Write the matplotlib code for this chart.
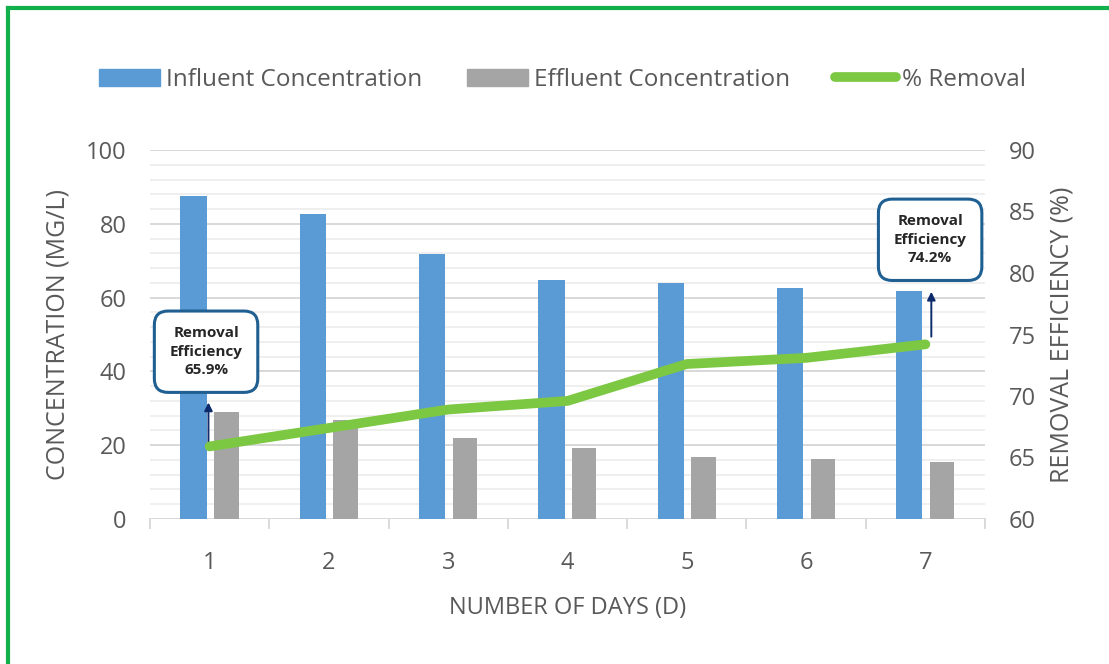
import matplotlib
matplotlib.use("Agg")
import matplotlib.pyplot as plt
from matplotlib.lines import Line2D
from matplotlib.patches import Patch
import numpy as np

plt.rcParams['font.family'] = ['Open Sans', 'DejaVu Sans']

days = [1, 2, 3, 4, 5, 6, 7]
influent = [87.5, 82.6, 71.8, 64.8, 64.0, 62.6, 61.8]
effluent = [29.0, 26.8, 22.0, 19.2, 16.8, 16.3, 15.4]
removal = [65.9, 67.4, 68.9, 69.6, 72.6, 73.1, 74.2]

blue = '#5b9bd5'
grey = '#a5a5a5'
green = '#7cc843'
txt = '#595959'

fig = plt.figure(figsize=(11.09, 6.64), dpi=100)
ax = fig.add_axes([150 / 1109, 1 - 519 / 664, 835 / 1109, 369 / 664])
ax2 = ax.twinx()

x = np.array(days)
ax.bar(x - 0.135, influent, width=0.22, color=blue, zorder=3)
ax.bar(x + 0.14, effluent, width=0.205, color=grey, zorder=3)
ax2.plot(x, removal, color=green, lw=7, solid_capstyle='round', zorder=4)

ax.set_xlim(0.5, 7.5)
ax.set_ylim(0, 100)
ax2.set_ylim(60, 90)
ax.set_yticks(range(0, 101, 20))
ax2.set_yticks(range(60, 91, 5))
ax.set_xticks(days)

# gridlines: minor every 4, major every 20
for v in range(4, 100, 4):
    ax.axhline(v, color='#ececec', lw=1.2, zorder=0)
for v in range(20, 101, 20):
    ax.axhline(v, color='#d9d9d9', lw=1.4, zorder=1)

for a in (ax, ax2):
    for s in a.spines.values():
        s.set_visible(False)
ax.axhline(0, color='#d9d9d9', lw=1.4, zorder=2)
for b in np.arange(0.5, 7.6, 1.0):
    ax.plot([b, b], [0, -2.5], color='#d9d9d9', lw=1.4, clip_on=False)

ax.tick_params(axis='both', length=0, labelsize=17, labelcolor=txt, pad=17)
ax.tick_params(axis='x', pad=23)
ax2.tick_params(axis='y', length=0, labelsize=17, labelcolor=txt, pad=17)

ax.set_ylabel('CONCENTRATION (MG/L)', fontsize=18, color=txt, labelpad=11)
ax2.set_ylabel('REMOVAL EFFICIENCY (%)', fontsize=18, color=txt, labelpad=10)
ax.set_xlabel('NUMBER OF DAYS (D)', fontsize=17, color=txt, labelpad=15)

handles = [Patch(color=blue), Patch(color=grey), Line2D([], [], color=green, lw=7, solid_capstyle='round')]
labels = ['Influent Concentration', 'Effluent Concentration', '% Removal']
fig.legend(handles, labels, loc='center', bbox_to_anchor=(0.507, 1 - 80 / 664), ncol=3,
           frameon=False, fontsize=17.5, labelcolor=txt, handlelength=2.5, handleheight=0.7,
           columnspacing=1.85, handletextpad=0.25)

# annotations
box = dict(boxstyle='round,pad=1.0,rounding_size=0.9', fc='white', ec='#1f5f91', lw=2.2)
ax2.annotate('', xy=(0.99, 69.7), xytext=(0.99, 65.4),
             arrowprops=dict(arrowstyle='-|>', color='#0d2a6b', lw=1.4, mutation_scale=12))
ax2.text(0.97, 73.6, 'Removal\nEfficiency\n65.9%', ha='center', va='center', fontsize=11,
         fontweight='bold', color='#262626', bbox=box, linespacing=1.4, zorder=6)
ax2.annotate('', xy=(7.05, 78.7), xytext=(7.05, 74.6),
             arrowprops=dict(arrowstyle='-|>', color='#0d2a6b', lw=1.4, mutation_scale=12))
ax2.text(7.04, 82.7, 'Removal\nEfficiency\n74.2%', ha='center', va='center', fontsize=11,
         fontweight='bold', color='#262626', bbox=box, linespacing=1.4, zorder=6)

# green frame (top and left)
fig.add_artist(Line2D([8 / 1109, 8 / 1109], [0, 1 - 8 / 664], color='#12b04c', lw=3))
fig.add_artist(Line2D([8 / 1109, 1], [1 - 8 / 664, 1 - 8 / 664], color='#12b04c', lw=3))

fig.savefig('out.png', dpi=100)
